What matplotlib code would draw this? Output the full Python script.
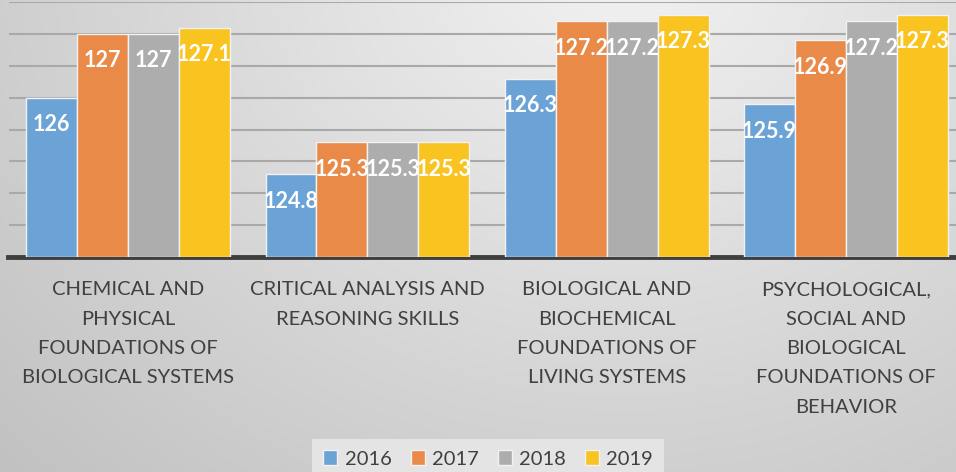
import numpy as np
import matplotlib
matplotlib.use("Agg")
import matplotlib.pyplot as plt

categories = [
    "CHEMICAL AND\nPHYSICAL\nFOUNDATIONS OF\nBIOLOGICAL SYSTEMS",
    "CRITICAL ANALYSIS AND\nREASONING SKILLS",
    "BIOLOGICAL AND\nBIOCHEMICAL\nFOUNDATIONS OF\nLIVING SYSTEMS",
    "PSYCHOLOGICAL,\nSOCIAL AND\nBIOLOGICAL\nFOUNDATIONS OF\nBEHAVIOR",
]
years = ["2016", "2017", "2018", "2019"]
v2016 = [126.0, 124.8, 126.3, 125.9]
v2017 = [127.0, 125.3, 127.2, 126.9]
v2018 = [127.0, 125.3, 127.2, 127.2]
v2019 = [127.1, 125.3, 127.3, 127.3]
series = [v2016, v2017, v2018, v2019]
colors = ["#6ba3d7", "#ea8a48", "#adadad", "#f9c320"]

plt.rcParams['font.family'] = ['Lato', 'DejaVu Sans']

W, H = 956, 472
fig = plt.figure(figsize=(W / 100, H / 100), dpi=100)

# background gradient
bg = fig.add_axes([0, 0, 1, 1], zorder=-10)
yy, xx = np.mgrid[0:H, 0:W]
r = np.sqrt(((xx - 620) / 1.0) ** 2 + ((yy + 40) / 0.85) ** 2)
val = 0.95 - 0.17 * np.clip(r / 760, 0, 1.3)
img = np.dstack([val, val, val])
bg.imshow(img, aspect='auto', extent=[0, 1, 0, 1], origin='upper')
bg.axis('off')

ax = fig.add_axes([8.5 / W, 215 / H, (965.7 - 8.5) / W, (470 - 215) / H])
ax.patch.set_alpha(0)
ax.set_xlim(-0.5, 3.5)
ax.set_ylim(123.5, 127.5)
ax.set_yticks(np.arange(123.5, 127.51, 0.5))
ax.yaxis.grid(True, color="#a9a9a9", linewidth=1.5)
ax.set_axisbelow(True)
for s in ["left", "right", "top"]:
    ax.spines[s].set_visible(False)
ax.spines["bottom"].set_color("#3f3f3f")
ax.spines["bottom"].set_linewidth(3.5)
ax.tick_params(axis='y', left=False, labelleft=False)
ax.tick_params(axis='x', bottom=False, labelbottom=False)

x = np.arange(len(categories))
bw = 0.213
for i, (vals, c, yr) in enumerate(zip(series, colors, years)):
    pos = x + (i - 1.5) * bw
    ax.bar(pos, [v - 123.5 for v in vals], bottom=123.5, width=bw,
           color=c, edgecolor="#f2f2f2", linewidth=1.0, label=yr, zorder=3)
    for p, v in zip(pos, vals):
        lab = f"{v:g}"
        ax.annotate(lab, (p, v), xytext=(0, -19.5), textcoords="offset points",
                    ha="center", va="center", color="white", fontsize=15.5,
                    fontweight="bold", zorder=5)

for xi, cat in zip(x, categories):
    ax.annotate(cat, (xi, 123.5), xytext=(0, -17.5), textcoords="offset points",
                ha="center", va="top", color="#404040", fontsize=14.5,
                linespacing=1.88, annotation_clip=False)

leg = fig.legend(loc="center", bbox_to_anchor=(488 / W, 13 / H), ncol=4,
                 frameon=True, fontsize=14.5, handlelength=0.7, handleheight=0.7,
                 handletextpad=0.35, columnspacing=0.95, borderpad=0.3)
leg.get_frame().set_facecolor("#e4e4e4")
leg.get_frame().set_edgecolor("none")
leg.get_frame().set_alpha(1)
leg.get_frame().set_boxstyle("square", pad=0.25)
for t in leg.get_texts():
    t.set_color("#404040")

fig.savefig("out.png", dpi=100)
